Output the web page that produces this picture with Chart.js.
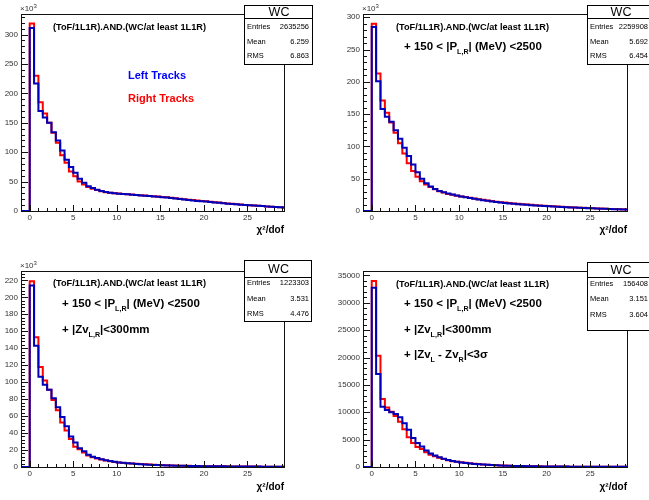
<!DOCTYPE html>
<html lang="en">
<head>
  <meta charset="UTF-8" />
  <title>WC track chi2/dof</title>
  <script src="https://cdn.jsdelivr.net/npm/chart.js"></script>
  <style>
    body { margin: 0; background: #fff; }
    #wrap { position: relative; width: 649px; height: 500px; overflow: hidden; }
    canvas { position: absolute; }
  </style>
</head>
<body>
  <div id="wrap">
    <canvas id="c1" width="325" height="250" style="left:0;top:0"></canvas>
    <canvas id="c2" width="324" height="250" style="left:325px;top:0"></canvas>
    <canvas id="c3" width="325" height="250" style="left:0;top:250px"></canvas>
    <canvas id="c4" width="324" height="250" style="left:325px;top:250px"></canvas>
  </div>

  <script>
    // bins of 0.5 starting at 0 (chi2/dof)
    const binWidth = 0.5;
    const xMin = -1, xMax = 29.2;
    const xTicks = [0, 5, 10, 15, 20, 25];

    // panel 1 : no extra cut (units of 10^3)
    const blue1 = [311, 217, 170, 159, 150, 134, 120, 103, 87, 75, 65, 55, 48, 42, 39, 36, 34, 32.5, 31, 30,
      29.5, 28.9, 28.3, 27.7, 27.1, 26.5, 25.9, 25.3, 24.7, 24.1, 23.5, 22.8, 22.0, 21.2, 20.4, 19.6, 18.8, 18.0, 17.2, 16.5,
      16.0, 15.3, 14.6, 13.9, 13.2, 12.5, 11.9, 11.3, 10.7, 10.2, 9.8, 9.3, 8.8, 8.3, 7.8, 7.3, 6.9, 6.5, 6.1];
    const red1 = [319, 230, 185, 166, 150, 133, 116, 95, 82, 67, 59, 50, 45, 41, 38, 35.5, 33.5, 32, 31, 30,
      29.6, 29.0, 28.5, 27.9, 27.4, 26.8, 26.2, 25.7, 25.1, 24.5, 23.9, 23.3, 22.5, 21.7, 20.9, 20.1, 19.3, 18.5, 17.7, 17.0,
      16.4, 15.7, 15.0, 14.3, 13.6, 12.9, 12.3, 11.6, 11.0, 10.4, 9.9, 9.3, 8.8, 8.3, 7.8, 7.3, 6.9, 6.5, 6.1];
    const yTicks1 = [0, 50, 100, 150, 200, 250, 300];

    // panel 2 : momentum cut (units of 10^3)
    const blue2 = [285, 201, 158, 146, 138, 125, 112, 98, 85, 72, 60, 50, 43, 38, 34, 31, 29, 27, 25.5, 24,
      22.5, 21.2, 20.0, 18.9, 17.8, 16.8, 15.8, 14.9, 14.0, 13.2, 12.5, 11.8, 11.2, 10.6, 10.0, 9.5, 9.0, 8.5, 8.1, 7.7,
      7.3, 6.9, 6.5, 6.2, 5.9, 5.6, 5.3, 5.0, 4.7, 4.4, 4.1, 3.8, 3.5, 3.3, 3.1, 2.9, 2.7, 2.5, 2.3];
    const red2 = [290, 213, 171, 152, 137, 121, 105, 89, 74, 62, 53, 46, 41, 37, 33.5, 30.5, 28.5, 26.5, 25, 23.5,
      22.6, 21.5, 20.4, 19.3, 18.3, 17.3, 16.3, 15.4, 14.5, 13.7, 13.0, 12.3, 11.7, 11.1, 10.5, 10.0, 9.5, 9.0, 8.6, 8.2,
      7.8, 7.4, 7.0, 6.6, 6.2, 5.9, 5.5, 5.2, 4.9, 4.6, 4.3, 4.0, 3.7, 3.4, 3.2, 3.0, 2.8, 2.6, 2.4];
    const yTicks2 = [0, 50, 100, 150, 200, 250, 300];

    // panel 3 : + vertex z cut (units of 10^3)
    const blue3 = [214, 143, 106.5, 97, 91, 81, 70.5, 59, 48, 36, 29, 22, 18.5, 14.5, 12, 10.5, 9, 8, 7, 6.2,
      5.4, 4.9, 4.4, 4.0, 3.6, 3.3, 3.0, 2.7, 2.5, 2.3, 2.1, 1.9, 1.75, 1.6, 1.5, 1.4, 1.3, 1.2, 1.1, 1.0,
      0.95, 0.9, 0.85, 0.8, 0.75, 0.7, 0.66, 0.62, 0.58, 0.55, 0.52, 0.49, 0.46, 0.43, 0.4, 0.38, 0.36, 0.34, 0.32];
    const red3 = [219, 153, 118, 102, 91, 79, 67, 52.5, 43, 33, 24, 21, 17, 13.5, 11.5, 10, 8.7, 7.7, 6.8, 6.0,
      5.3, 4.8, 4.4, 4.0, 3.7, 3.4, 3.1, 2.8, 2.6, 2.4, 2.2, 2.0, 1.85, 1.7, 1.55, 1.45, 1.35, 1.25, 1.15, 1.05,
      1.0, 0.95, 0.9, 0.85, 0.8, 0.75, 0.7, 0.65, 0.6, 0.57, 0.54, 0.5, 0.47, 0.44, 0.41, 0.39, 0.37, 0.35, 0.33];
    const yTicks3 = [0, 20, 40, 60, 80, 100, 120, 140, 160, 180, 200, 220];

    // panel 4 : + |ZvL - ZvR| cut (counts)
    const blue4 = [32750, 17000, 11000, 10400, 10000, 9700, 9100, 8000, 6800, 5300, 4400, 3750, 3000, 2450, 2100, 1800, 1500, 1300, 1100, 950,
      820, 720, 640, 570, 500, 450, 400, 350, 310, 280, 250, 220, 200, 180, 160, 140, 130, 120, 110, 100,
      90, 85, 80, 75, 70, 65, 60, 55, 50, 48, 45, 42, 40, 38, 35, 33, 30, 28, 26];
    const red4 = [33960, 20300, 12400, 10850, 10100, 9300, 8250, 6900, 5450, 4400, 3650, 3300, 2700, 2250, 1950, 1700, 1450, 1250, 1050, 950,
      850, 760, 680, 600, 530, 470, 420, 370, 330, 290, 260, 230, 205, 185, 165, 150, 135, 125, 115, 105,
      95, 88, 82, 77, 72, 67, 62, 57, 52, 49, 46, 43, 41, 39, 36, 34, 31, 29, 27];
    const yTicks4 = [0, 5000, 10000, 15000, 20000, 25000, 30000, 35000];

    // stats boxes
    const entries = ['2635256', '2259908', '1223303', '156408'];
    const means = ['6.259', '5.692', '3.531', '3.151'];
    const rmss = ['6.863', '6.454', '4.476', '3.604'];

    const header = '(ToF/1L1R).AND.(WC/at least 1L1R)';
    const pCut = [['+ 150 < |P', 0], ['L,R', 1], ['| (MeV) <2500', 0]];
    const zCut = [['+ |Zv', 0], ['L,R', 1], ['|<300mm', 0]];
    const dzCut = [['+ |Zv', 0], ['L', 1], [' - Zv', 0], ['R', 1], ['|<3\u03c3', 0]];

    const FONT = "'Liberation Sans', Arial, sans-serif";
    const blueCol = '#0000b8';
    const redCol = '#ff0000';

    function histPoints(values) {
      const pts = [{ x: xMin, y: 0 }];
      values.forEach((v, i) => pts.push({ x: i * binWidth, y: v }));
      pts.push({ x: values.length * binWidth, y: values[values.length - 1] });
      return pts;
    }

    // text with subscripts, parts = [text, isSub]
    function drawRich(ctx, x, y, parts, size, color) {
      ctx.fillStyle = color;
      ctx.textBaseline = 'middle';
      ctx.textAlign = 'left';
      parts.forEach(([t, sub]) => {
        const s = sub ? size * 0.62 : size;
        ctx.font = 'bold ' + s + 'px ' + FONT;
        ctx.fillText(t, x, sub ? y + size * 0.45 : y);
        x += ctx.measureText(t).width;
      });
    }

    function rootPlugin(p) {
      return {
        id: 'rootStyle',
        afterDraw(chart) {
          const { ctx, chartArea: a, scales: { x, y } } = chart;
          ctx.save();
          ctx.strokeStyle = '#111';
          ctx.lineWidth = 1;
          ctx.beginPath();
          // x ticks: major 5, minor 1
          for (let v = Math.ceil(xMin); v <= xMax; v++) {
            const px = Math.round(x.getPixelForValue(v)) + 0.5;
            const len = v % 5 === 0 ? 6 : 3;
            ctx.moveTo(px, a.bottom);
            ctx.lineTo(px, a.bottom - len);
          }
          // y ticks: 5 minor divisions
          const step = p.yTicks[1] - p.yTicks[0];
          const minor = step / 5;
          for (let i = 0; i * minor <= p.yMax; i++) {
            const py = Math.round(y.getPixelForValue(i * minor)) + 0.5;
            const len = i % 5 === 0 ? 7 : 4;
            ctx.moveTo(a.left, py);
            ctx.lineTo(a.left + len, py);
          }
          ctx.stroke();
          // frame
          ctx.strokeRect(Math.round(a.left) + 0.5, Math.round(a.top) + 0.5,
            Math.round(a.right - a.left), Math.round(a.bottom - a.top));

          // x10^3
          if (p.k) {
            ctx.fillStyle = '#333';
            ctx.font = '8px ' + FONT;
            ctx.textBaseline = 'middle';
            ctx.textAlign = 'left';
            ctx.fillText('\u00d710', a.left - 1, a.top - 5);
            const w = ctx.measureText('\u00d710').width;
            ctx.font = '6px ' + FONT;
            ctx.fillText('3', a.left - 1 + w, a.top - 8);
          }

          // stats box
          const b = p.box;
          ctx.fillStyle = '#fff';
          ctx.fillRect(b.x, b.y, b.w, b.h);
          ctx.strokeStyle = '#000';
          ctx.strokeRect(b.x + 0.5, b.y + 0.5, b.w, b.h);
          ctx.beginPath();
          ctx.moveTo(b.x, b.line + 0.5);
          ctx.lineTo(b.x + b.w, b.line + 0.5);
          ctx.stroke();
          ctx.fillStyle = '#000';
          ctx.textBaseline = 'middle';
          ctx.textAlign = 'center';
          ctx.font = '12.5px ' + FONT;
          ctx.fillText('WC', b.x + b.w / 2 + 1, (b.y + b.line) / 2 + 1);
          ctx.font = '7.5px ' + FONT;
          const rows = [['Entries', entries[p.i]], ['Mean', means[p.i]], ['RMS', rmss[p.i]]];
          rows.forEach(([lab, val], j) => {
            ctx.textAlign = 'left';
            ctx.fillText(lab, b.x + 3, b.rows[j]);
            ctx.textAlign = 'right';
            ctx.fillText(val, b.valX, b.rows[j]);
          });

          // annotations
          ctx.textAlign = 'left';
          ctx.font = 'bold 9.2px ' + FONT;
          ctx.fillStyle = '#000';
          ctx.fillText(header, p.head.x, p.head.y);
          p.lines.forEach(l => drawRich(ctx, l.x, l.y, l.parts, l.size, l.color));
          ctx.restore();
        }
      };
    }

    const panels = [
      { id: 'c1', i: 0, blue: blue1, red: red1, yMax: 335, yTicks: yTicks1, k: true,
        area: { left: 21, top: 14, right: 284, bottom: 211 }, titlePad: 14,
        box: { x: 244, y: 5, w: 68, h: 59, line: 18, rows: [27, 42, 56], valX: 309 },
        head: { x: 53, y: 27 },
        lines: [
          { x: 128, y: 76, size: 11, color: '#0000ff', parts: [['Left Tracks', 0]] },
          { x: 128, y: 99, size: 11, color: '#ff0000', parts: [['Right Tracks', 0]] }
        ] },
      { id: 'c2', i: 1, blue: blue2, red: red2, yMax: 305, yTicks: yTicks2, k: true,
        area: { left: 38, top: 14, right: 302, bottom: 211 }, titlePad: 14,
        box: { x: 262, y: 5, w: 66, h: 59, line: 18, rows: [27, 42, 56], valX: 323 },
        head: { x: 71, y: 27 },
        lines: [{ x: 79, y: 47, size: 11.5, color: '#000', parts: pCut }] },
      { id: 'c3', i: 2, blue: blue3, red: red3, yMax: 231, yTicks: yTicks3, k: true,
        area: { left: 21, top: 21, right: 284, bottom: 217 }, titlePad: 7,
        box: { x: 244, y: 10, w: 67, h: 61, line: 27, rows: [33, 49, 64], valX: 309 },
        head: { x: 53, y: 33 },
        lines: [
          { x: 62, y: 54, size: 11.5, color: '#000', parts: pCut },
          { x: 62, y: 80, size: 11.5, color: '#000', parts: zCut }
        ] },
      { id: 'c4', i: 3, blue: blue4, red: red4, yMax: 35800, yTicks: yTicks4, k: false,
        area: { left: 38, top: 21, right: 302, bottom: 217 }, titlePad: 7,
        box: { x: 262, y: 12, w: 66, h: 68, line: 27, rows: [34, 49, 65], valX: 323 },
        head: { x: 71, y: 34 },
        lines: [
          { x: 79, y: 54, size: 11.5, color: '#000', parts: pCut },
          { x: 79, y: 80, size: 11.5, color: '#000', parts: zCut },
          { x: 79, y: 105, size: 11.5, color: '#000', parts: dzCut }
        ] }
    ];

    const tickFont = { family: FONT, size: 8 };

    panels.forEach(p => {
      const el = document.getElementById(p.id);
      const W = el.width, H = el.height;
      new Chart(el, {
        type: 'line',
        data: {
          datasets: [
            { label: 'Left Tracks', data: histPoints(p.blue), borderColor: blueCol, borderWidth: 2,
              stepped: true, pointRadius: 0, fill: false },
            { label: 'Right Tracks', data: histPoints(p.red), borderColor: redCol, borderWidth: 2,
              stepped: true, pointRadius: 0, fill: false }
          ]
        },
        options: {
          responsive: false,
          animation: false,
          devicePixelRatio: 1,
          layout: { padding: { left: 0, top: p.area.top, right: W - p.area.right, bottom: 0 } },
          plugins: { legend: { display: false }, tooltip: { enabled: false } },
          scales: {
            x: {
              type: 'linear', min: xMin, max: xMax,
              grid: { display: false, drawTicks: false }, border: { display: false },
              ticks: { maxRotation: 0, autoSkip: false, font: tickFont, color: '#333', padding: 2,
                callback: v => String(v) },
              afterBuildTicks: s => { s.ticks = xTicks.map(v => ({ value: v })); },
              title: { display: true, text: '\u03c7\u00b2/dof', align: 'end', color: '#000',
                font: { family: FONT, size: 10, weight: 'bold' }, padding: { top: 0, bottom: p.titlePad } },
              afterFit: s => { s.height = H - p.area.bottom; }
            },
            y: {
              min: 0, max: p.yMax,
              grid: { display: false, drawTicks: false }, border: { display: false },
              ticks: { font: tickFont, color: '#333', padding: 3, callback: v => String(v) },
              afterBuildTicks: s => { s.ticks = p.yTicks.map(v => ({ value: v })); },
              afterFit: s => { s.width = p.area.left; }
            }
          }
        },
        plugins: [rootPlugin(p)]
      });
    });
  </script>
</body>
</html>
